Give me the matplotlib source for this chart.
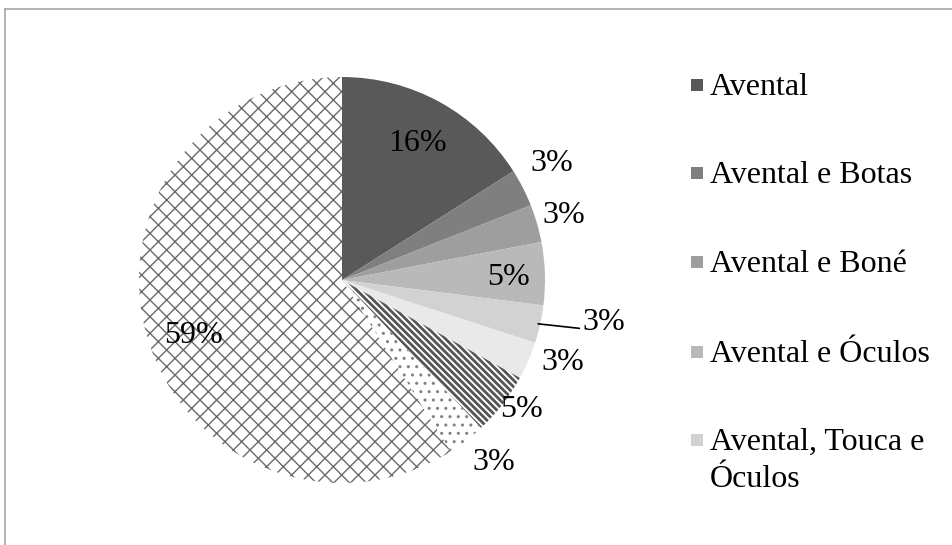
import numpy as np
import matplotlib.pyplot as plt
from matplotlib.lines import Line2D
from matplotlib.patches import Rectangle

plt.rcParams['font.family'] = ['Liberation Serif', 'DejaVu Serif']
plt.rcParams['hatch.linewidth'] = 1.1

# Data (percent of respondents), clockwise from 12 o'clock
shares = [16, 3, 3, 5, 3, 3, 5, 3, 59]
legend_labels = ["Avental", "Avental e Botas", "Avental e Boné",
                 "Avental e Óculos", "Avental, Touca e\nÓculos"]

# Styling per slice
fills = ["#595959", "#7f7f7f", "#9e9e9e", "#b9b9b9", "#d2d2d2", "#e9e9e9",
         "white", "white", "white"]
hatches = [None, None, None, None, None, None, "\\\\\\\\\\", "..", "xx"]
hatch_cols = [None, None, None, None, None, None, "#555555", "#808080", "#6a6a6a"]
hatch_lw = [None, None, None, None, None, None, 2.0, 1.0, 1.0]
# label placement: radius ratio and angle offset (deg) from wedge middle
lab_r = [0.77, 1.18, 1.14, 0.82, 1.32, 1.16, 1.09, 1.17, 0.78]
lab_da = [0, 2, 0, -1, 3.4, 3, 2, 2, 4.4]
leader = [False, False, False, False, True, False, False, False, False]

FS = 23

fig = plt.figure(figsize=(9.52, 5.45), dpi=100)
W, H = 952, 545

# outer frame (only top/left visible)
fig.add_artist(Line2D([5 / W, 5 / W], [0, 1 - 9 / H], transform=fig.transFigure,
                      color="#a6a6a6", lw=1.2))
fig.add_artist(Line2D([5 / W, 1], [1 - 9 / H, 1 - 9 / H], transform=fig.transFigure,
                      color="#a6a6a6", lw=1.2))

cx, cy, r = 342, 280, 203
ax = fig.add_axes([(cx - r) / W, (H - cy - r) / H, 2 * r / W, 2 * r / H])

wedges, _ = ax.pie(shares, colors=fills, startangle=90, counterclock=False,
                   radius=1, wedgeprops=dict(linewidth=0))
ax.set_xlim(-1, 1)
ax.set_ylim(-1, 1)
ax.axis("off")

for w, h, hc, hl in zip(wedges, hatches, hatch_cols, hatch_lw):
    w.set_clip_on(False)
    if h:
        w.set_edgecolor(hc)
        w.set_linewidth(0)
        w.set_hatch(h)
        if hasattr(w, "set_hatch_linewidth"):
            w.set_hatch_linewidth(hl)
        else:
            w._hatch_linewidth = hl

for w, v, rr, da, ld in zip(wedges, shares, lab_r, lab_da, leader):
    mid = np.deg2rad((w.theta1 + w.theta2) / 2)
    ang = mid + np.deg2rad(da)
    tx, ty = rr * np.cos(ang), rr * np.sin(ang)
    if ld:
        ax.annotate(f"{v}%", xy=(0.99 * np.cos(mid), 0.99 * np.sin(mid)),
                    xytext=(tx - 0.12, ty), ha="left", va="center", fontsize=FS,
                    annotation_clip=False,
                    arrowprops=dict(arrowstyle="-", color="black", lw=1.2,
                                    relpos=(0, 0.3), shrinkA=0, shrinkB=0))
    else:
        ax.text(tx, ty, f"{v}%", ha="center", va="center", fontsize=FS)

# legend drawn by hand so the marker sits on the first line
base_y = [95, 183, 272, 362, 450]
line_h = 37
for lab, col, by in zip(legend_labels, fills, base_y):
    fig.add_artist(Rectangle((691 / W, 1 - (by - 4) / H), 12 / W, 12 / H,
                             transform=fig.transFigure, facecolor=col,
                             edgecolor="none"))
    for i, part in enumerate(lab.split("\n")):
        fig.text(710 / W, 1 - (by + i * line_h) / H, part, fontsize=FS,
                 ha="left", va="baseline")

fig.savefig("out.png", dpi=100, facecolor="white")
